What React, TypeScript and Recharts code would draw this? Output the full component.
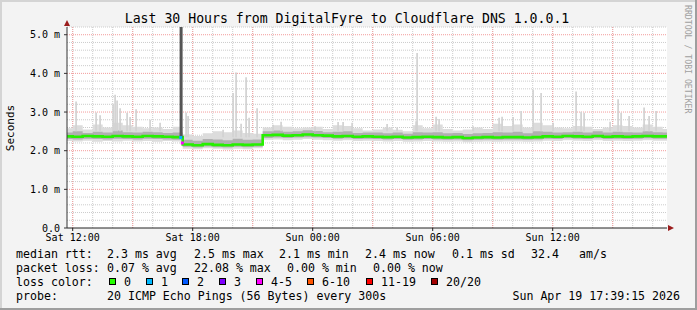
import React from 'react';
import { ComposedChart, Area, Line, Scatter, ErrorBar, XAxis, YAxis, CartesianGrid } from 'recharts';

const MONO = '"DejaVu Sans Mono", "Liberation Mono", monospace';

// samples every 30 min, hours counted from Sat 00:00
const sampleHours = [
  11.5, 12, 12.5, 13, 13.5, 14, 14.5, 15, 15.5, 16, 16.5, 17,
  17.5, 18, 18.5, 19, 19.5, 20, 20.5, 21,
  21.5, 22, 22.5, 23, 23.5, 24, 24.5, 25, 25.5, 26,
  26.5, 27, 27.5, 28, 28.5, 29, 29.5, 30, 30.5, 31,
  31.5, 32, 32.5, 33, 33.5, 34, 34.5, 35, 35.5, 36,
  36.5, 37, 37.5, 38, 38.5, 39, 39.5, 40, 40.5, 41, 41.5, 42,
];
const medianMs = [
  2.37, 2.36, 2.38, 2.37, 2.36, 2.38, 2.37, 2.36, 2.38, 2.37, 2.36, 2.35,
  2.16, 2.14, 2.17, 2.15, 2.14, 2.16, 2.15, 2.16,
  2.40, 2.41, 2.39, 2.40, 2.42, 2.40, 2.39, 2.37, 2.38, 2.36,
  2.37, 2.36, 2.35, 2.36, 2.34, 2.35, 2.36, 2.35, 2.34, 2.35,
  2.33, 2.34, 2.35, 2.34, 2.35, 2.35, 2.34, 2.35, 2.37, 2.36,
  2.38, 2.37, 2.36, 2.38, 2.36, 2.37, 2.36, 2.37, 2.38, 2.37, 2.37, 2.37,
];
const smokeLowMs = [
  2.25, 2.24, 2.26, 2.23, 2.25, 2.24, 2.26, 2.24, 2.25, 2.23, 2.25, 2.24,
  2.05, 2.04, 2.06, 2.05, 2.03, 2.05, 2.04, 2.06,
  2.28, 2.29, 2.27, 2.28, 2.30, 2.28, 2.27, 2.26, 2.27, 2.25,
  2.26, 2.25, 2.24, 2.25, 2.23, 2.24, 2.25, 2.24, 2.23, 2.24,
  2.22, 2.23, 2.24, 2.23, 2.24, 2.24, 2.23, 2.24, 2.26, 2.25,
  2.27, 2.26, 2.25, 2.27, 2.25, 2.26, 2.25, 2.26, 2.27, 2.26, 2.26, 2.26,
];
const smokeHighMs = [
  2.58, 2.66, 2.55, 2.68, 2.60, 2.72, 2.66, 2.62, 2.58, 2.60, 2.56, 2.62,
  2.42, 2.38, 2.45, 2.50, 2.48, 2.52, 2.46, 2.44,
  2.60, 2.66, 2.62, 2.58, 2.60, 2.62, 2.56, 2.66, 2.64, 2.58,
  2.52, 2.55, 2.60, 2.54, 2.50, 2.66, 2.58, 2.68, 2.56, 2.52,
  2.55, 2.60, 2.56, 2.70, 2.64, 2.68, 2.60, 2.72, 2.66, 2.60,
  2.58, 2.64, 2.62, 2.56, 2.60, 2.66, 2.64, 2.60, 2.68, 2.62, 2.56, 2.56,
];
const coreLowMs = [
  2.30, 2.29, 2.31, 2.30, 2.29, 2.31, 2.30, 2.29, 2.31, 2.30, 2.29, 2.28,
  2.10, 2.08, 2.11, 2.09, 2.08, 2.10, 2.09, 2.10,
  2.33, 2.34, 2.33, 2.34, 2.35, 2.34, 2.33, 2.31, 2.32, 2.30,
  2.31, 2.30, 2.29, 2.30, 2.28, 2.29, 2.30, 2.29, 2.28, 2.29,
  2.27, 2.28, 2.29, 2.28, 2.29, 2.29, 2.28, 2.29, 2.31, 2.30,
  2.32, 2.31, 2.30, 2.32, 2.30, 2.31, 2.30, 2.31, 2.32, 2.31, 2.31, 2.31,
];
const coreHighMs = [
  2.47, 2.50, 2.46, 2.49, 2.47, 2.52, 2.48, 2.47, 2.49, 2.48, 2.46, 2.47,
  2.28, 2.26, 2.30, 2.29, 2.27, 2.31, 2.28, 2.29,
  2.50, 2.52, 2.49, 2.50, 2.53, 2.51, 2.48, 2.49, 2.50, 2.46,
  2.47, 2.47, 2.45, 2.47, 2.44, 2.48, 2.47, 2.48, 2.45, 2.46,
  2.43, 2.45, 2.46, 2.48, 2.47, 2.49, 2.45, 2.50, 2.49, 2.47,
  2.48, 2.49, 2.47, 2.50, 2.47, 2.49, 2.48, 2.47, 2.50, 2.48, 2.47, 2.47,
];

// single slow pings sticking out of the smoke
const spikeHours = [
  12.17, 13.17, 13.37, 14.02, 14.12, 14.22, 14.37, 14.72, 14.87, 15.17, 15.87, 16.37,
  17.67, 17.77, 19.52, 20.02, 20.17, 20.42, 20.67, 20.82, 21.22, 22.02, 22.42, 24.12,
  25.27, 25.52, 25.97, 27.72, 28.22, 29.17, 29.22, 30.17, 30.32, 32.02, 33.32, 33.47,
  34.02, 34.42, 35.02, 35.42, 36.02, 37.17, 37.42, 37.57, 38.87, 39.27, 39.42, 39.82,
  40.57, 40.82, 41.17,
];
const spikeTopMs = [
  3.27, 2.99, 2.92, 3.2, 3.45, 3.3, 3.1, 2.98, 2.87, 3.07, 2.8, 2.72,
  2.99, 2.9, 2.54, 3.49, 4.02, 2.7, 3.9, 2.85, 3.1, 2.67, 2.75, 2.63,
  2.74, 2.74, 2.72, 2.69, 2.6, 2.76, 4.53, 2.88, 2.82, 2.63, 2.85, 2.88,
  2.87, 3.03, 3.57, 3.49, 2.72, 3.53, 3.01, 2.98, 2.75, 3.33, 2.98, 2.9,
  3.12, 2.9, 3.03,
];

// the loss event around 17:25
const lossBarHours = [17.42];
const lossBarTopMs = [5.2];
const lossBarBaseMs = [2.32];
const lossDotHours = [17.4, 17.48];
const lossDotMs = [2.34, 2.2];
const lossDotColors = ['#00b8ff', '#ff00ff'];

const tickHours = [12, 18, 24, 30, 36];
const tickLabels = ['Sat 12:00', 'Sat 18:00', 'Sun 00:00', 'Sun 06:00', 'Sun 12:00'];
const yTicks = [0, 1, 2, 3, 4, 5];
const minorX = Array.from({ length: 30 }, (_, i) => 12 + i);
const majorX = Array.from({ length: 10 }, (_, i) => 12 + i * 3);
const minorY = Array.from({ length: 26 }, (_, i) => Math.round((i + 1) * 2) / 10).filter(v => v % 1 !== 0);
const majorY = [1, 2, 3, 4, 5];

const rttLine = [
  { x: 16, s: 'median rtt:' }, { x: 107, s: '2.3 ms avg' }, { x: 194, s: '2.5 ms max' },
  { x: 279, s: '2.1 ms min' }, { x: 365, s: '2.4 ms now' }, { x: 452, s: '0.1 ms sd' },
  { x: 531, s: '32.4' }, { x: 579, s: 'am/s' },
];
const lossLine = [
  { x: 16, s: 'packet loss:' }, { x: 107, s: '0.07 % avg' }, { x: 194, s: '22.08 % max' },
  { x: 287, s: '0.00 % min' }, { x: 373, s: '0.00 % now' },
];
const lossLabels = ['0', '1', '2', '3', '4-5', '6-10', '11-19', '20/20'];
const lossPalette = ['#26ff00', '#00b8ff', '#0059ff', '#7e00ff', '#ff00ff', '#ff5500', '#ff0000', '#a10000'];
const lossBoxX = [109, 146, 182, 219, 256, 307, 366, 431];

const smokeRows = sampleHours.map((t, i) => ({
  t,
  med: medianMs[i],
  smoke: [smokeLowMs[i], smokeHighMs[i]],
  core: [coreLowMs[i], coreHighMs[i]],
}));
const spikeRows = spikeHours.map((t, i) => {
  const base = t >= 17.5 && t < 21.5 ? 2.35 : 2.5;
  return { t, top: spikeTopMs[i], drop: [spikeTopMs[i] - base, 0] };
});
const lossBarRows = lossBarHours.map((t, i) => ({
  t, top: lossBarTopMs[i], drop: [lossBarTopMs[i] - lossBarBaseMs[i], 0],
}));
const lossDotRows = lossDotHours.map((t, i) => ({ t, v: lossDotMs[i], color: lossDotColors[i] }));

const noShape = () => <g />;
const dotShape = (p: any) => (
  <rect x={p.cx - 1.5} y={p.cy - 1.5} width={3} height={3} fill={p.payload.color} />
);

export default function App() {
  const tickStyle = { fill: '#000', fontSize: 10, fontFamily: MONO };
  return (
    <div style={{ position: 'absolute', left: 0, top: 0, width: 697, height: 310, background: '#f3f3f3' }}>
      <ComposedChart
        width={697}
        height={310}
        data={smokeRows}
        margin={{ top: 27, right: 30, bottom: 62, left: 0 }}
      >
        <CartesianGrid
          horizontalValues={minorY}
          verticalValues={minorX}
          stroke="#cccccc"
          strokeDasharray="1 1"
          fill="#ffffff"
        />
        <CartesianGrid
          horizontalValues={majorY}
          verticalValues={majorX}
          stroke="#f39c9c"
          strokeDasharray="1 1"
        />
        <XAxis
          type="number"
          dataKey="t"
          domain={[11.715, 41.715]}
          allowDataOverflow
          ticks={tickHours}
          interval={0}
          tickFormatter={(v: number) => tickLabels[tickHours.indexOf(v)]}
          height={20}
          tickSize={3}
          tickMargin={3}
          stroke="#222"
          tick={tickStyle}
        />
        <YAxis
          type="number"
          domain={[0, 5.2]}
          allowDataOverflow
          ticks={yTicks}
          interval={0}
          tickFormatter={(v: number) => (v === 0 ? '0.0' : `${v.toFixed(1)} m`)}
          width={67}
          tickSize={3}
          tickMargin={4}
          stroke="#333"
          tick={tickStyle}
        />
        <Area dataKey="smoke" type="stepAfter" fill="#dcdcdc" fillOpacity={1} stroke="none" isAnimationActive={false} />
        <Area dataKey="core" type="stepAfter" fill="#b0b0b0" fillOpacity={1} stroke="none" isAnimationActive={false} />
        <Scatter data={spikeRows} dataKey="top" shape={noShape} isAnimationActive={false}>
          <ErrorBar dataKey="drop" direction="y" width={0} stroke="#d2d2d2" strokeWidth={1.7} isAnimationActive={false} />
        </Scatter>
        <Line dataKey="med" type="stepAfter" stroke="#26f000" strokeWidth={2.6} dot={false} isAnimationActive={false} />
        <Scatter data={lossBarRows} dataKey="top" shape={noShape} isAnimationActive={false}>
          <ErrorBar dataKey="drop" direction="y" width={0} stroke="#555555" strokeWidth={3} isAnimationActive={false} />
        </Scatter>
        <Scatter data={lossDotRows} dataKey="v" shape={dotShape} isAnimationActive={false} />
      </ComposedChart>

      <svg
        width={697}
        height={310}
        style={{ position: 'absolute', left: 0, top: 0, pointerEvents: 'none' }}
        fontFamily={MONO}
      >
        <rect x={0} y={0} width={697} height={2} fill="#d4d4d4" />
        <rect x={0} y={0} width={2} height={310} fill="#d4d4d4" />
        <rect x={0} y={308} width={697} height={2} fill="#9e9e9e" />
        <rect x={695} y={0} width={2} height={310} fill="#9e9e9e" />

        <text x={347} y={23} textAnchor="middle" fontSize={13.2} fill="#000">
          Last 30 Hours from DigitalFyre to Cloudflare DNS 1.0.0.1
        </text>
        <text transform="translate(685,5) rotate(90)" fontSize={8.2} fill="#a0a0a0">
          RRDTOOL / TOBI OETIKER
        </text>
        <text transform="translate(14,128) rotate(-90)" textAnchor="middle" fontSize={11} fill="#000">
          Seconds
        </text>

        <polygon points="64,26 70,26 67,20" fill="#9b1c1c" />
        <polygon points="668,225 668,231 674,228" fill="#9b1c1c" />

        <g fontSize={11.6} fill="#000">
          {rttLine.map(d => (
            <text key={d.s} x={d.x} y={258}>{d.s}</text>
          ))}
          {lossLine.map(d => (
            <text key={d.s} x={d.x} y={272}>{d.s}</text>
          ))}
          <text x={16} y={286}>loss color:</text>
          {lossLabels.map((l, i) => (
            <g key={l}>
              <rect x={lossBoxX[i] + 0.5} y={278.5} width={6} height={6} fill={lossPalette[i]} stroke="#000" />
              <text x={lossBoxX[i] + 15} y={286}>{l}</text>
            </g>
          ))}
          <text x={16} y={300}>probe:</text>
          <text x={107} y={300}>20 ICMP Echo Pings (56 Bytes) every 300s</text>
          <text x={680} y={300} textAnchor="end">Sun Apr 19 17:39:15 2026</text>
        </g>
      </svg>
    </div>
  );
}
